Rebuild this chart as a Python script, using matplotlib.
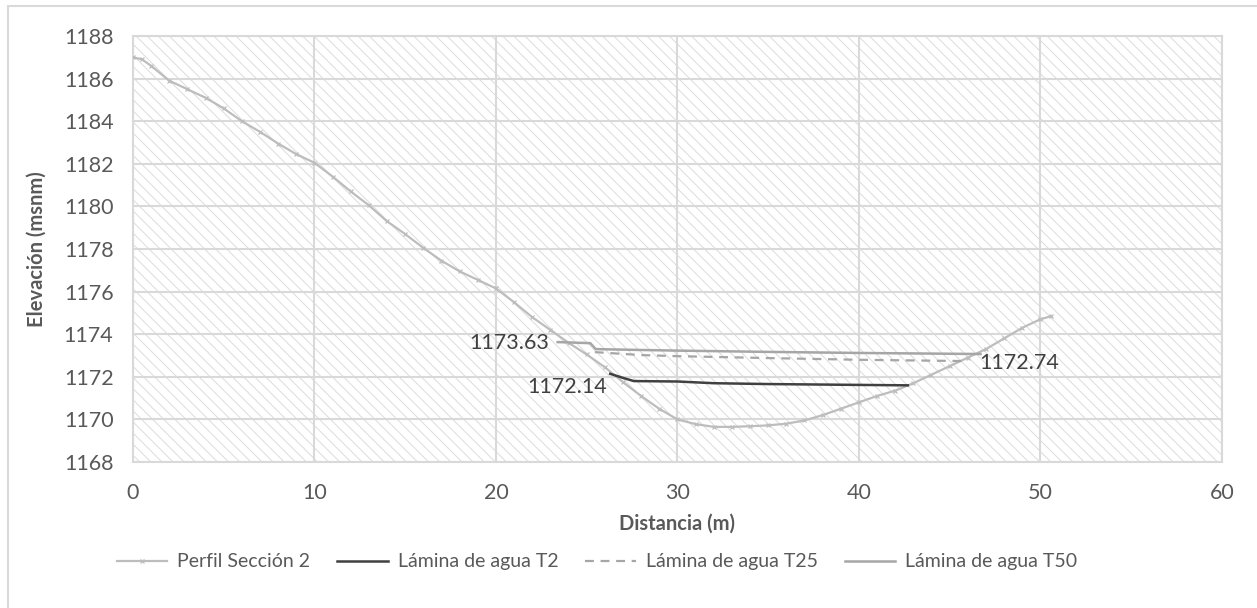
import matplotlib
matplotlib.use("Agg")
import matplotlib.pyplot as plt
from matplotlib.patches import Rectangle

# Perfil del terreno (Sección 2)
dist_perfil = [0, 0.5, 1, 2, 3, 4, 5, 6, 7, 8, 9, 10, 11, 12, 13, 14, 15, 16, 17, 18,
               19, 20, 21, 22, 23, 24, 25, 26, 27, 28, 29, 30, 31, 32, 33, 34, 35, 36,
               37, 38, 39, 40, 41, 42, 43, 44, 45, 46, 47, 48, 49, 50, 50.6]
elev_perfil = [1187.0, 1186.9, 1186.6, 1185.9, 1185.5, 1185.1, 1184.6, 1184.0, 1183.5,
               1182.95, 1182.45, 1182.05, 1181.4, 1180.7, 1180.05, 1179.3, 1178.7, 1178.05,
               1177.45, 1176.95, 1176.55, 1176.15, 1175.5, 1174.8, 1174.2, 1173.6, 1173.05,
               1172.45, 1171.75, 1171.1, 1170.5, 1170.0, 1169.78, 1169.65, 1169.65, 1169.68,
               1169.72, 1169.8, 1169.95, 1170.2, 1170.5, 1170.8, 1171.1, 1171.35, 1171.7,
               1172.1, 1172.5, 1172.9, 1173.3, 1173.8, 1174.3, 1174.7, 1174.85]

# Lámina de agua T2
dist_t2 = [26.3, 27.0, 27.6, 30, 32, 35, 40, 42.7]
elev_t2 = [1172.14, 1171.95, 1171.8, 1171.78, 1171.7, 1171.66, 1171.62, 1171.6]

# Lámina de agua T25
dist_t25 = [25.45, 28, 30, 35, 40, 45.7]
elev_t25 = [1173.16, 1173.02, 1172.97, 1172.88, 1172.8, 1172.74]

# Lámina de agua T50
dist_t50 = [23.4, 25.2, 25.5, 28, 30, 35, 40, 46.7]
elev_t50 = [1173.63, 1173.58, 1173.3, 1173.26, 1173.23, 1173.17, 1173.12, 1173.07]

xticks = [0, 10, 20, 30, 40, 50, 60]
yticks = list(range(1168, 1189, 2))

plt.rcParams['font.family'] = ['Lato', 'DejaVu Sans']
plt.rcParams['hatch.color'] = '#DCDCDC'
plt.rcParams['hatch.linewidth'] = 0.7

fig = plt.figure(figsize=(12.57, 6.08), dpi=100)
ax = fig.add_axes([0.1058, 0.2401, 0.8662, 0.7007])

# outer chart border (light gray)
fig.patches.append(Rectangle((8 / 1257, -0.1), 1.2, 1 - 6 / 608 + 0.1,
                             transform=fig.transFigure, fill=False,
                             edgecolor='#D9D9D9', linewidth=1.5, zorder=0))

# hatched plot area
ax.add_patch(Rectangle((0, 0), 1, 1, transform=ax.transAxes, facecolor='white',
                       hatch='\\\\\\', edgecolor='#DCDCDC', linewidth=0, zorder=0.2))

ax.plot(dist_perfil, elev_perfil, color='#BDBDBD', lw=1.6, marker='x', ms=3.5,
        mew=0.9, label='Perfil Sección 2', zorder=3)
ax.plot(dist_t2, elev_t2, color='#404040', lw=1.8, label='Lámina de agua T2', zorder=4)
ax.plot(dist_t25, elev_t25, color='#A6A6A6', lw=1.6, ls=(0, (4, 3)),
        label='Lámina de agua T25', zorder=4)
ax.plot(dist_t50, elev_t50, color='#A6A6A6', lw=1.8, label='Lámina de agua T50', zorder=4)

lab_kw = dict(textcoords='offset pixels', fontsize=15.5, color='#404040', zorder=6)
ax.annotate(f"{elev_t50[0]:.2f}", (dist_t50[0], elev_t50[0]), xytext=(-8, -1),
            ha='right', va='center', **lab_kw)
ax.annotate(f"{elev_t2[0]:.2f}", (dist_t2[0], elev_t2[0]), xytext=(-3, -13),
            ha='right', va='center', **lab_kw)
ax.annotate(f"{elev_t25[-1]:.2f}", (dist_t25[-1], elev_t25[-1]), xytext=(17, -2),
            ha='left', va='center', **lab_kw)

ax.set_xlim(0, 60)
ax.set_ylim(1168, 1188)
ax.set_xticks(xticks)
ax.set_yticks(yticks)
ax.grid(True, color='#D9D9D9', lw=1.5)
ax.set_axisbelow(True)
for s in ax.spines.values():
    s.set_color('#D9D9D9')
    s.set_linewidth(1.5)
ax.tick_params(length=0, labelsize=15.5, colors='#595959')
ax.tick_params(axis='x', pad=15)
ax.tick_params(axis='y', pad=14)

ax.set_xlabel('Distancia (m)', fontsize=14.5, fontweight='bold', color='#595959', labelpad=8)
ax.set_ylabel('Elevación (msnm)', fontsize=14.5, fontweight='bold', color='#595959', labelpad=12)

fig.legend(loc='center', bbox_to_anchor=(0.475, 0.0757), ncol=4, frameon=False,
           fontsize=14, labelcolor='#595959', handlelength=2.6, handletextpad=0.5,
           columnspacing=1.4)

fig.savefig('out.png', dpi=100)
